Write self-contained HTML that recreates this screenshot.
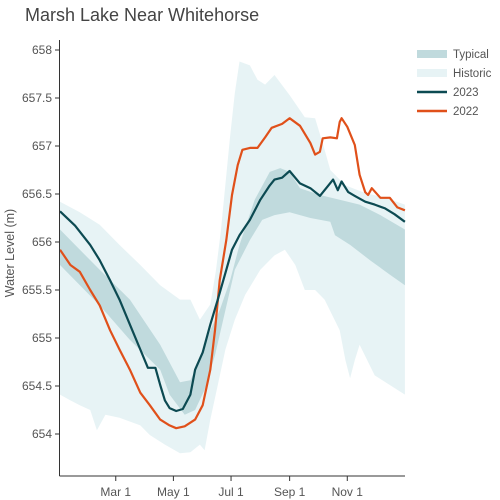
<!DOCTYPE html>
<html><head><meta charset="utf-8"><style>
html,body{margin:0;padding:0;background:#fff;}
svg{display:block;font-family:"Liberation Sans",sans-serif;}
</style></head><body>
<svg id="chart" width="500" height="500">
<text x="25" y="21" font-size="18" fill="#444">Marsh Lake Near Whitehorse</text>
<g id="plot"></g>
<g id="axes"></g>
<g font-size="11.5" fill="#555">
<rect x="417" y="50" width="30" height="8" fill="#c0dadd"/>
<text x="453" y="58">Typical</text>
<rect x="417" y="69" width="30" height="8" fill="#e7f3f5"/>
<text x="453" y="77">Historic</text>
<line x1="417" y1="92" x2="447" y2="92" stroke="#0c4a52" stroke-width="2.5"/>
<text x="453" y="96">2023</text>
<line x1="417" y1="111" x2="447" y2="111" stroke="#e0501a" stroke-width="2.5"/>
<text x="453" y="115">2022</text>
</g>
</svg>
<script>
const yTicks=[654,654.5,655,655.5,656,656.5,657,657.5,658];
const xTickDays=[59,120,181,243,304];
const xTickLabels=["Mar 1","May 1","Jul 1","Sep 1","Nov 1"];
const days2023=[0,16,32,42,53,63,74,85,93,101,106,111,116,123,130,138,143,151,159,167,176,182,190,201,212,222,227,235,243,254,265,275,284,289,294,298,305,312,323,333,344,354,365];
const vals2023=[656.32,656.17,655.97,655.81,655.60,655.40,655.14,654.88,654.69,654.69,654.51,654.35,654.27,654.24,654.26,654.41,654.67,654.85,655.14,655.40,655.71,655.92,656.07,656.23,656.44,656.59,656.65,656.67,656.74,656.61,656.56,656.48,656.59,656.65,656.54,656.63,656.52,656.48,656.42,656.39,656.35,656.29,656.21];
const days2022=[0,11,21,32,42,53,63,74,85,95,106,116,123,132,143,151,159,164,169,176,182,188,193,201,209,217,224,235,243,254,265,270,275,278,286,293,296,298,304,312,317,323,326,330,339,349,357,365];
const vals2022=[655.92,655.76,655.69,655.50,655.34,655.08,654.88,654.67,654.43,654.30,654.15,654.09,654.06,654.08,654.15,654.30,654.67,655.08,655.60,656.02,656.49,656.80,656.96,656.98,656.98,657.09,657.19,657.23,657.29,657.21,657.03,656.91,656.94,657.08,657.09,657.08,657.25,657.29,657.20,657.01,656.70,656.52,656.49,656.56,656.46,656.46,656.36,656.33];
const typUpDays=[0,16,42,74,106,127,138,148,159,169,180,190,206,222,233,243,254,275,296,317,339,365];
const typUpVals=[656.13,655.97,655.71,655.40,654.93,654.54,654.56,654.77,655.08,655.29,655.60,655.97,656.44,656.73,656.77,656.73,656.56,656.49,656.44,656.39,656.28,656.13];
const typLoDays=[0,16,42,74,106,116,132,143,153,164,175,185,201,214,227,243,265,286,291,307,328,349,365];
const typLoVals=[655.76,655.60,655.34,654.98,654.67,654.41,654.20,654.25,654.46,654.82,655.29,655.71,656.02,656.23,656.28,656.31,656.25,656.21,656.07,655.97,655.81,655.66,655.55];
const histUpDays=[0,21,42,63,85,106,127,138,148,159,165,170,175,180,185,190,201,209,217,227,243,259,270,280,286,302,323,344,365];
const histUpVals=[656.42,656.31,656.18,655.97,655.76,655.55,655.40,655.40,655.19,655.35,655.70,656.10,656.60,657.10,657.55,657.88,657.84,657.69,657.64,657.74,657.53,657.30,657.29,656.96,656.75,656.59,656.51,656.46,656.39];
const histLoDays=[0,11,21,32,39,48,63,85,95,111,127,138,148,153,159,167,175,185,196,212,227,238,249,259,270,280,296,302,307,312,317,333,349,365];
const histLoVals=[654.41,654.35,654.30,654.25,654.04,654.20,654.17,654.09,653.99,653.89,653.80,653.81,653.89,653.83,654.15,654.51,654.88,655.19,655.45,655.71,655.86,655.92,655.76,655.50,655.50,655.40,655.08,654.77,654.58,654.77,654.93,654.61,654.51,654.41];

const X=d=>60+d*0.945;
const Y=v=>50+(658-v)*96;
const NS="http://www.w3.org/2000/svg";
const plot=document.getElementById('plot'), axes=document.getElementById('axes');
function pts(ds,vs){return ds.map((d,i)=>X(d).toFixed(1)+","+Y(vs[i]).toFixed(1));}
function band(ud,uv,ld,lv,fill,name){
  const p=document.createElementNS(NS,'polygon');
  p.setAttribute('points',pts(ud,uv).concat(pts(ld,lv).reverse()).join(' '));
  p.setAttribute('fill',fill);
  
  
  plot.appendChild(p);
}
function line(ds,vs,col,name){
  const p=document.createElementNS(NS,'polyline');
  p.setAttribute('points',pts(ds,vs).join(' '));
  p.setAttribute('fill','none');p.setAttribute('stroke',col);p.setAttribute('stroke-width','2.2');
  p.setAttribute('stroke-linejoin','round');
  
  
  plot.appendChild(p);
}
band(histUpDays,histUpVals,histLoDays,histLoVals,'#e7f3f5','historic-band');
band(typUpDays,typUpVals,typLoDays,typLoVals,'#c0dadd','typical-band');
line(days2022,vals2022,'#e0501a','line-2022');
line(days2023,vals2023,'#0c4a52','line-2023');

function mk(tag,attrs,parent){const e=document.createElementNS(NS,tag);for(const k in attrs)e.setAttribute(k,attrs[k]);parent.appendChild(e);return e;}
const ya=mk('line',{x1:59.5,y1:40,x2:59.5,y2:476,stroke:'#333','stroke-width':1},axes);


const xa=mk('line',{x1:59.5,y1:476,x2:405,y2:476,stroke:'#333','stroke-width':1},axes);


yTicks.forEach(v=>{
  mk('line',{x1:55,x2:59.5,y1:Y(v),y2:Y(v),stroke:'#333'},axes);
  const t=mk('text',{x:52,y:Y(v)+4,'text-anchor':'end','font-size':12,fill:'#555'},axes);
  t.textContent=String(v);
  
  
});
xTickDays.forEach((d,i)=>{
  mk('line',{x1:X(d),x2:X(d),y1:476,y2:481,stroke:'#333'},axes);
  const t=mk('text',{x:X(d),y:496,'text-anchor':'middle','font-size':12,fill:'#555'},axes);
  t.textContent=xTickLabels[i];
  
  
});
const yl=mk('text',{x:0,y:0,transform:'translate(14,253) rotate(-90)','text-anchor':'middle','font-size':12.5,fill:'#555'},axes);
yl.textContent='Water Level (m)';


</script>
</body></html>
